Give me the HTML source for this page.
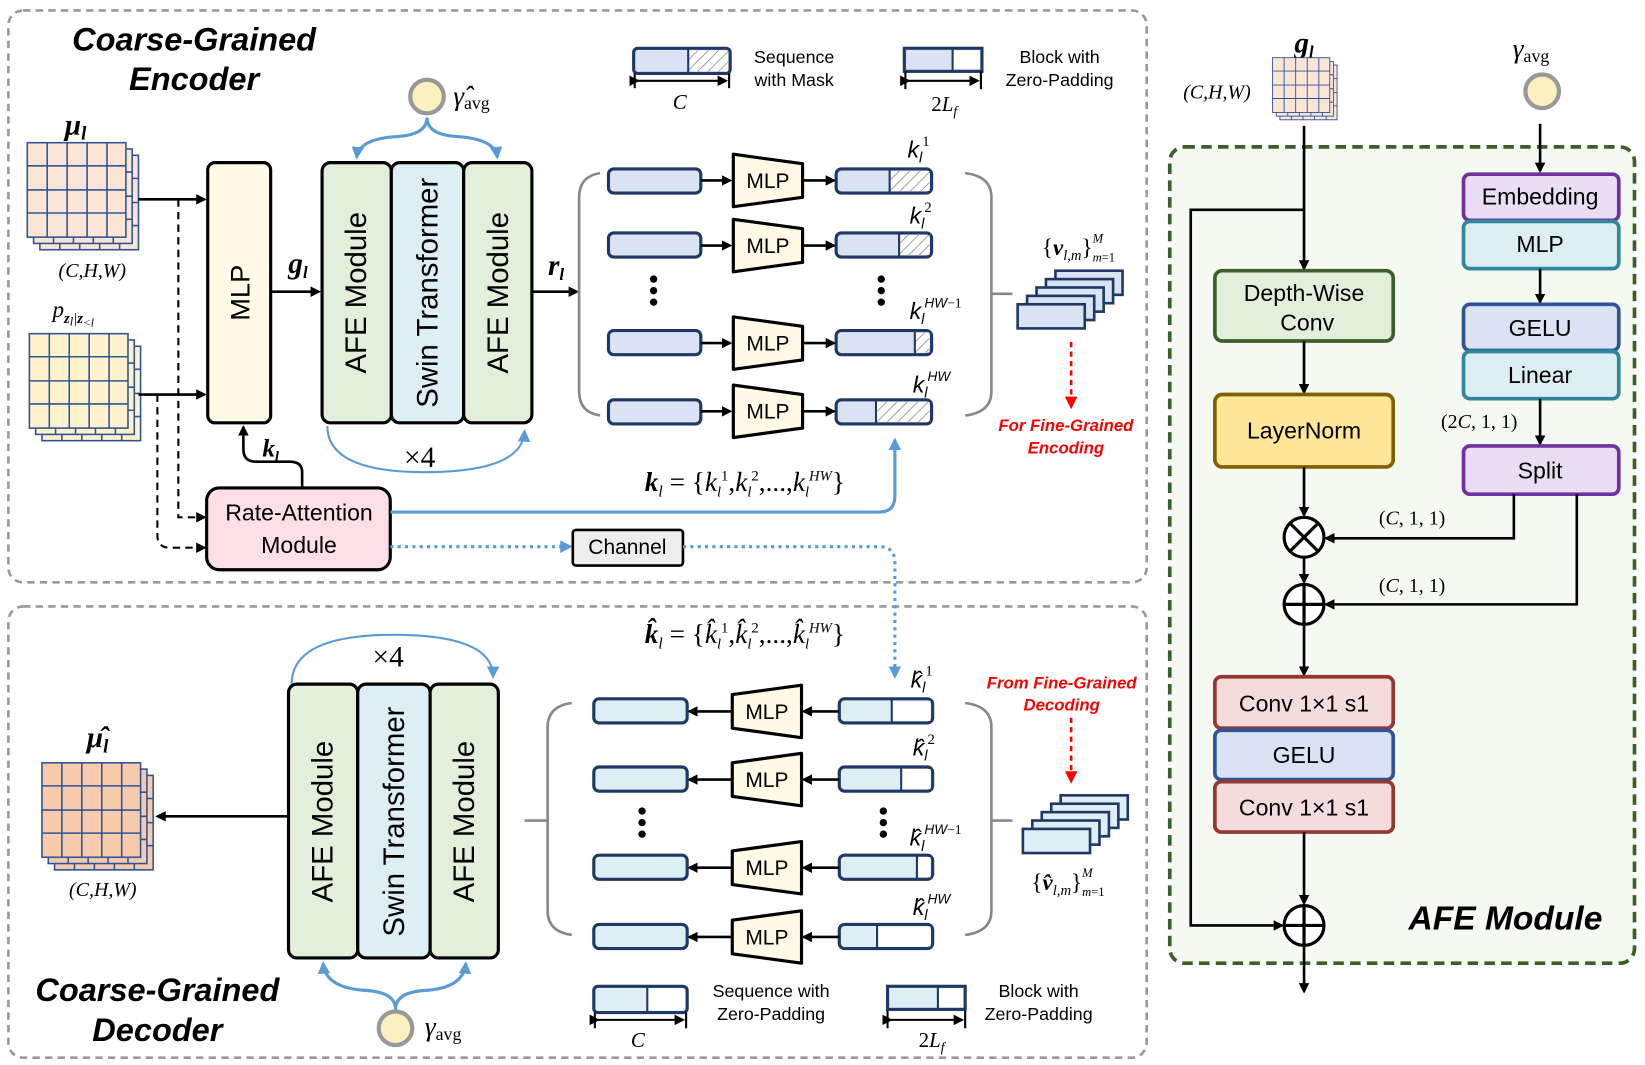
<!DOCTYPE html>
<html><head><meta charset="utf-8"><style>
html,body{margin:0;padding:0;background:#fff}
svg{display:block}
text{font-family:"Liberation Sans",sans-serif}
.m{font-family:"Liberation Serif",serif;font-style:italic}
.r{font-family:"Liberation Serif",serif}
.t{font-weight:bold;font-style:italic;font-size:31px}
.red{fill:#ff0000;font-weight:bold;font-style:italic;font-size:16px}
</style></head><body>
<svg width="1645" height="1065" viewBox="0 0 1568 1015" preserveAspectRatio="none" xmlns="http://www.w3.org/2000/svg">
<defs>
<marker id="a" markerWidth="10" markerHeight="10" refX="8" refY="5" orient="auto" markerUnits="userSpaceOnUse"><path d="M0,0 L10,5 L0,10 z" fill="#000"/></marker>
<marker id="b" markerWidth="12" markerHeight="12" refX="10" refY="6" orient="auto" markerUnits="userSpaceOnUse"><path d="M0,0 L12,6 L0,12 z" fill="#5b9bd5"/></marker>
<marker id="rd" markerWidth="12" markerHeight="12" refX="10" refY="6" orient="auto" markerUnits="userSpaceOnUse"><path d="M0,0 L12,6 L0,12 z" fill="#ff0000"/></marker>
<pattern id="h" width="7" height="7" patternUnits="userSpaceOnUse" patternTransform="rotate(45)"><rect width="7" height="7" fill="#fff"/><line x1="0" y1="0" x2="0" y2="7" stroke="#888" stroke-width="1.5"/></pattern>
<g id="gp"><rect x="0" y="0" width="94" height="90" fill="#fbe5d6" stroke="#2f5597" stroke-width="1.5"/><path d="M19 0V90M38 0V90M57 0V90M76 0V90M0 22H94M0 45H94M0 67H94" stroke="#2f5597" stroke-width="1.5"/></g>
<g id="gy"><rect x="0" y="0" width="94" height="90" fill="#fff2cc" stroke="#2f5597" stroke-width="1.5"/><path d="M19 0V90M38 0V90M57 0V90M76 0V90M0 22H94M0 45H94M0 67H94" stroke="#2f5597" stroke-width="1.5"/></g>
<g id="go"><rect x="0" y="0" width="94" height="90" fill="#f8cbad" stroke="#2f5597" stroke-width="1.5"/><path d="M19 0V90M38 0V90M57 0V90M76 0V90M0 22H94M0 45H94M0 67H94" stroke="#2f5597" stroke-width="1.5"/></g>
<g id="mlp"><path d="M0,-25 L66,-16 L66,16 L0,25 z" fill="#fff9e5" stroke="#000" stroke-width="3" stroke-linejoin="round"/><text x="33" y="7" font-size="20" text-anchor="middle">MLP</text></g>
<g id="mlpL"><path d="M0,-16 L66,-25 L66,25 L0,16 z" fill="#fff9e5" stroke="#000" stroke-width="3" stroke-linejoin="round"/><text x="33" y="7" font-size="20" text-anchor="middle">MLP</text></g>
</defs>

<rect x="8" y="10" width="1085" height="545" rx="14" fill="none" stroke="#999" stroke-width="2.5" stroke-dasharray="7,5"/>
<rect x="8" y="578" width="1085" height="430" rx="14" fill="none" stroke="#999" stroke-width="2.5" stroke-dasharray="7,5"/>
<rect x="1115" y="140" width="443" height="778" rx="14" fill="#f4f9f1" stroke="#3d5e2a" stroke-width="3.5" stroke-dasharray="10,6"/>

<text x="185" y="48" class="t" text-anchor="middle">Coarse-Grained</text>
<text x="185" y="86" class="t" text-anchor="middle">Encoder</text>
<text x="72" y="128" class="m" font-size="28" font-weight="bold" text-anchor="middle">μ<tspan font-size="18" dy="5">l</tspan></text>
<use href="#gp" x="38" y="148"/><use href="#gp" x="32" y="142"/><use href="#gp" x="26" y="136"/>
<text x="88" y="264" class="m" font-size="19" text-anchor="middle"><tspan class="r">(</tspan>C,H,W<tspan class="r">)</tspan></text>
<text x="50" y="302" class="m" font-size="22">p<tspan font-size="14" dy="6" font-weight="bold">z</tspan><tspan font-size="12" dy="2">l</tspan><tspan font-size="14" dy="-2">|</tspan><tspan font-size="14" font-weight="bold">z</tspan><tspan font-size="11" dy="3">&lt;l</tspan></text>
<use href="#gy" x="40" y="330"/><use href="#gy" x="34" y="324"/><use href="#gy" x="28" y="318"/>
<line x1="132" y1="190" x2="195" y2="190" stroke="#000" stroke-width="2.5" marker-end="url(#a)"/>
<line x1="132" y1="376" x2="195" y2="376" stroke="#000" stroke-width="2.5" marker-end="url(#a)"/>
<path d="M170,190 V493 H195" fill="none" stroke="#000" stroke-width="2" stroke-dasharray="7,5" marker-end="url(#a)"/>
<path d="M150,376 V510 Q150,522 162,522 H195" fill="none" stroke="#000" stroke-width="2" stroke-dasharray="7,5" marker-end="url(#a)"/>
<rect x="198" y="155" width="60" height="248" rx="7" fill="#fff9e5" stroke="#000" stroke-width="3"/>
<text transform="translate(238,279) rotate(-90)" font-size="26" text-anchor="middle">MLP</text>
<line x1="258" y1="278" x2="304" y2="278" stroke="#000" stroke-width="2.5" marker-end="url(#a)"/>
<text x="284" y="260" class="m" font-size="28" font-weight="bold" text-anchor="middle">g<tspan font-size="16" dy="5">l</tspan></text>
<rect x="307" y="155" width="66" height="248" rx="8" fill="#e2efda" stroke="#000" stroke-width="3"/>
<rect x="373" y="155" width="69" height="248" rx="8" fill="#deeef5" stroke="#000" stroke-width="3"/>
<rect x="442" y="155" width="65" height="248" rx="8" fill="#e2efda" stroke="#000" stroke-width="3"/>
<text transform="translate(349,279) rotate(-90)" font-size="28" text-anchor="middle">AFE Module</text>
<text transform="translate(417,279) rotate(-90)" font-size="28" text-anchor="middle">Swin Transformer</text>
<text transform="translate(484,279) rotate(-90)" font-size="28" text-anchor="middle">AFE Module</text>
<circle cx="407" cy="92" r="16" fill="#fdf0c0" stroke="#999" stroke-width="4"/>
<text x="432" y="100" class="m" font-size="26">γ̂<tspan class="r" font-style="normal" font-size="17" dy="4">avg</tspan></text>
<path d="M407,112 Q407,128 380,130 Q342,132 340,150" fill="none" stroke="#5b9bd5" stroke-width="3" marker-end="url(#b)"/>
<path d="M407,112 Q407,128 434,130 Q472,132 474,150" fill="none" stroke="#5b9bd5" stroke-width="3" marker-end="url(#b)"/>
<path d="M312,406 Q312,450 405,450 Q498,450 500,411" fill="none" stroke="#5b9bd5" stroke-width="2" marker-end="url(#b)"/>
<text x="400" y="445" class="r" font-size="28" text-anchor="middle">×4</text>
<line x1="507" y1="278" x2="550" y2="278" stroke="#000" stroke-width="2.5" marker-end="url(#a)"/>
<text x="530" y="262" class="m" font-size="28" font-weight="bold" text-anchor="middle">r<tspan font-size="16" dy="5">l</tspan></text>
<path d="M572,165 Q552,168 552,188 V373 Q552,393 572,396" fill="none" stroke="#888" stroke-width="2.5"/>
<path d="M920,165 Q945,168 945,188 V373 Q945,393 920,396" fill="none" stroke="#888" stroke-width="2.5"/>
<line x1="945" y1="280" x2="965" y2="280" stroke="#888" stroke-width="2.5"/>

<g stroke-width="3">
<rect x="580" y="161" width="88" height="23" rx="5" fill="#dae3f3" stroke="#1f3864"/>
<rect x="580" y="222" width="88" height="23" rx="5" fill="#dae3f3" stroke="#1f3864"/>
<rect x="580" y="315" width="88" height="23" rx="5" fill="#dae3f3" stroke="#1f3864"/>
<rect x="580" y="381" width="88" height="23" rx="5" fill="#dae3f3" stroke="#1f3864"/>
<rect x="797" y="161" width="91" height="23" rx="5" fill="#dae3f3" stroke="#1f3864"/><rect x="848" y="163" width="38" height="19" fill="url(#h)"/><line x1="848" y1="161" x2="848" y2="184" stroke="#1f3864" stroke-width="2"/>
<rect x="797" y="222" width="91" height="23" rx="5" fill="#dae3f3" stroke="#1f3864"/><rect x="857" y="224" width="29" height="19" fill="url(#h)"/><line x1="857" y1="222" x2="857" y2="245" stroke="#1f3864" stroke-width="2"/>
<rect x="797" y="315" width="91" height="23" rx="5" fill="#dae3f3" stroke="#1f3864"/><rect x="872" y="317" width="14" height="19" fill="url(#h)"/><line x1="872" y1="315" x2="872" y2="338" stroke="#1f3864" stroke-width="2"/>
<rect x="797" y="381" width="91" height="23" rx="5" fill="#dae3f3" stroke="#1f3864"/><rect x="835" y="383" width="51" height="19" fill="url(#h)"/><line x1="835" y1="381" x2="835" y2="404" stroke="#1f3864" stroke-width="2"/>
</g>
<use href="#mlp" x="699" y="172"/><use href="#mlp" x="699" y="234"/><use href="#mlp" x="699" y="327"/><use href="#mlp" x="699" y="392"/>
<g stroke="#000" stroke-width="2.5">
<line x1="668" y1="172" x2="696" y2="172" marker-end="url(#a)"/><line x1="668" y1="234" x2="696" y2="234" marker-end="url(#a)"/><line x1="668" y1="327" x2="696" y2="327" marker-end="url(#a)"/><line x1="668" y1="392" x2="696" y2="392" marker-end="url(#a)"/>
<line x1="766" y1="172" x2="795" y2="172" marker-end="url(#a)"/><line x1="766" y1="234" x2="795" y2="234" marker-end="url(#a)"/><line x1="766" y1="327" x2="795" y2="327" marker-end="url(#a)"/><line x1="766" y1="392" x2="795" y2="392" marker-end="url(#a)"/>
</g>
<g fill="#000"><circle cx="623" cy="266" r="3.5"/><circle cx="623" cy="277" r="3.5"/><circle cx="623" cy="288" r="3.5"/><circle cx="840" cy="266" r="3.5"/><circle cx="840" cy="277" r="3.5"/><circle cx="840" cy="288" r="3.5"/></g>
<g class="m" font-size="22">
<text x="865" y="150">k<tspan font-size="14" dy="5">l</tspan><tspan font-size="14" dy="-16" class="r" font-style="normal">1</tspan></text>
<text x="867" y="213">k<tspan font-size="14" dy="5">l</tspan><tspan font-size="14" dy="-16" class="r" font-style="normal">2</tspan></text>
<text x="867" y="304">k<tspan font-size="14" dy="5">l</tspan><tspan font-size="13" dy="-16">HW</tspan><tspan font-size="13" class="r" font-style="normal">−1</tspan></text>
<text x="870" y="374">k<tspan font-size="14" dy="5">l</tspan><tspan font-size="13" dy="-16">HW</tspan></text>
</g>
<g fill="#dae3f3" stroke="#1f3864" stroke-width="2.5">
<rect x="1006" y="258" width="64" height="23"/><rect x="997" y="266" width="64" height="23"/><rect x="988" y="274" width="64" height="23"/><rect x="979" y="282" width="64" height="23"/><rect x="970" y="290" width="64" height="23"/>
</g>
<text x="1028" y="243" class="m" font-size="22" text-anchor="middle"><tspan class="r" font-style="normal">{</tspan><tspan font-weight="bold">v</tspan><tspan font-size="14" dy="5">l,m</tspan><tspan class="r" font-style="normal" dy="-5">}</tspan><tspan font-size="12" dy="-12">M</tspan><tspan font-size="12" dx="-10" dy="18">m</tspan><tspan font-size="12" class="r" font-style="normal">=1</tspan></text>
<line x1="1021" y1="326" x2="1021" y2="388" stroke="#ff0000" stroke-width="2.5" stroke-dasharray="5,4" marker-end="url(#rd)"/>
<text x="1016" y="411" class="red" text-anchor="middle">For Fine-Grained</text>
<text x="1016" y="432" class="red" text-anchor="middle">Encoding</text>

<rect x="604" y="46" width="92" height="24" rx="4" fill="#dae3f3" stroke="#1f3864" stroke-width="3"/><rect x="656" y="48" width="38" height="20" fill="url(#h)"/><line x1="656" y1="46" x2="656" y2="70" stroke="#1f3864" stroke-width="2"/>
<path d="M605,70V84M695,70V84" stroke="#000" stroke-width="2"/><line x1="608" y1="77" x2="692" y2="77" stroke="#000" stroke-width="2" marker-end="url(#a)" marker-start="url(#a)"/>
<text x="648" y="104" class="m" font-size="20" text-anchor="middle">C</text>
<text x="757" y="60" font-size="17" text-anchor="middle">Sequence</text><text x="757" y="82" font-size="17" text-anchor="middle">with Mask</text>
<rect x="862" y="46" width="74" height="22" fill="#dae3f3" stroke="#1f3864" stroke-width="3"/><rect x="908" y="48" width="26" height="18" fill="#fff"/><line x1="908" y1="46" x2="908" y2="68" stroke="#1f3864" stroke-width="2"/>
<path d="M863,68V85M935,68V85" stroke="#000" stroke-width="2"/><line x1="866" y1="77" x2="932" y2="77" stroke="#000" stroke-width="2" marker-end="url(#a)" marker-start="url(#a)"/>
<text x="900" y="106" class="r" font-size="20" text-anchor="middle">2<tspan class="m">L</tspan><tspan class="m" font-size="13" dy="4">f</tspan></text>
<text x="1010" y="60" font-size="17" text-anchor="middle">Block with</text><text x="1010" y="82" font-size="17" text-anchor="middle">Zero-Padding</text>

<text x="710" y="468" class="m" font-size="26" text-anchor="middle"><tspan font-weight="bold">k</tspan><tspan font-size="15" dy="5">l</tspan><tspan class="r" font-style="normal" dy="-5"> = {</tspan>k<tspan font-size="14" dy="5">l</tspan><tspan font-size="14" dy="-15" class="r" font-style="normal">1</tspan><tspan class="r" font-style="normal" dy="10">,</tspan>k<tspan font-size="14" dy="5">l</tspan><tspan font-size="14" dy="-15" class="r" font-style="normal">2</tspan><tspan class="r" font-style="normal" dy="10">,...,</tspan>k<tspan font-size="14" dy="5">l</tspan><tspan font-size="14" dy="-15">HW</tspan><tspan class="r" font-style="normal" dy="10">}</tspan></text>

<rect x="197" y="465" width="175" height="78" rx="12" fill="#fde0e6" stroke="#000" stroke-width="3"/>
<text x="285" y="496" font-size="22" text-anchor="middle">Rate-Attention</text><text x="285" y="527" font-size="22" text-anchor="middle">Module</text>
<path d="M288,465 V450 Q288,440 276,440 H244 Q232,440 232,428 V407" fill="none" stroke="#000" stroke-width="2.5" marker-end="url(#a)"/>
<text x="258" y="435" class="m" font-size="24" font-weight="bold" text-anchor="middle">k<tspan font-size="14" dy="5">l</tspan></text>
<path d="M372,488 H838 Q853,488 853,473 V419" fill="none" stroke="#5b9bd5" stroke-width="3" marker-end="url(#b)"/>
<line x1="372" y1="521" x2="544" y2="521" stroke="#5b9bd5" stroke-width="3" stroke-dasharray="3,4" marker-end="url(#b)"/>
<rect x="546" y="505" width="105" height="34" rx="3" fill="#eeeeee" stroke="#000" stroke-width="2.5"/>
<text x="598" y="528" font-size="20" text-anchor="middle">Channel</text>
<path d="M651,521 H838 Q853,521 853,536 V645" fill="none" stroke="#5b9bd5" stroke-width="3" stroke-dasharray="3,4" marker-end="url(#b)"/>

<text x="710" y="613" class="m" font-size="26" text-anchor="middle"><tspan font-weight="bold">k̂</tspan><tspan font-size="15" dy="5">l</tspan><tspan class="r" font-style="normal" dy="-5"> = {</tspan>k̂<tspan font-size="14" dy="5">l</tspan><tspan font-size="14" dy="-15" class="r" font-style="normal">1</tspan><tspan class="r" font-style="normal" dy="10">,</tspan>k̂<tspan font-size="14" dy="5">l</tspan><tspan font-size="14" dy="-15" class="r" font-style="normal">2</tspan><tspan class="r" font-style="normal" dy="10">,...,</tspan>k̂<tspan font-size="14" dy="5">l</tspan><tspan font-size="14" dy="-15">HW</tspan><tspan class="r" font-style="normal" dy="10">}</tspan></text>
<text x="370" y="635" class="r" font-size="28" text-anchor="middle">×4</text>
<path d="M278,652 Q278,605 375,605 Q470,605 470,645" fill="none" stroke="#5b9bd5" stroke-width="2" marker-end="url(#b)"/>
<rect x="275" y="652" width="66" height="261" rx="8" fill="#e2efda" stroke="#000" stroke-width="3"/>
<rect x="341" y="652" width="69" height="261" rx="8" fill="#deeef5" stroke="#000" stroke-width="3"/>
<rect x="410" y="652" width="65" height="261" rx="8" fill="#e2efda" stroke="#000" stroke-width="3"/>
<text transform="translate(317,783) rotate(-90)" font-size="28" text-anchor="middle">AFE Module</text>
<text transform="translate(385,783) rotate(-90)" font-size="28" text-anchor="middle">Swin Transformer</text>
<text transform="translate(452,783) rotate(-90)" font-size="28" text-anchor="middle">AFE Module</text>
<path d="M377,962 Q377,946 350,944 Q310,942 308,918" fill="none" stroke="#5b9bd5" stroke-width="3" marker-end="url(#b)"/>
<path d="M377,962 Q377,946 404,944 Q442,942 444,918" fill="none" stroke="#5b9bd5" stroke-width="3" marker-end="url(#b)"/>
<circle cx="377" cy="980" r="16" fill="#fdf0c0" stroke="#999" stroke-width="4"/>
<text x="405" y="987" class="m" font-size="26">γ<tspan class="r" font-style="normal" font-size="17" dy="4">avg</tspan></text>
<line x1="275" y1="778" x2="150" y2="778" stroke="#000" stroke-width="2.5" marker-end="url(#a)"/>
<text x="93" y="712" class="m" font-size="28" font-weight="bold" text-anchor="middle">μ̂<tspan font-size="18" dy="5">l</tspan></text>
<use href="#go" x="52" y="739"/><use href="#go" x="46" y="733"/><use href="#go" x="40" y="727"/>
<text x="98" y="854" class="m" font-size="19" text-anchor="middle"><tspan class="r">(</tspan>C,H,W<tspan class="r">)</tspan></text>
<text x="150" y="954" class="t" text-anchor="middle">Coarse-Grained</text>
<text x="150" y="992" class="t" text-anchor="middle">Decoder</text>
<path d="M545,670 Q522,673 522,693 V868 Q522,888 545,891" fill="none" stroke="#888" stroke-width="2.5"/>
<path d="M920,670 Q945,673 945,693 V868 Q945,888 920,891" fill="none" stroke="#888" stroke-width="2.5"/>
<line x1="500" y1="782" x2="522" y2="782" stroke="#888" stroke-width="2.5"/>
<line x1="945" y1="782" x2="965" y2="782" stroke="#888" stroke-width="2.5"/>
<g stroke-width="3">
<rect x="566" y="666" width="89" height="23" rx="5" fill="#deeef5" stroke="#1f3864"/>
<rect x="566" y="731" width="89" height="23" rx="5" fill="#deeef5" stroke="#1f3864"/>
<rect x="566" y="815" width="89" height="23" rx="5" fill="#deeef5" stroke="#1f3864"/>
<rect x="566" y="881" width="89" height="23" rx="5" fill="#deeef5" stroke="#1f3864"/>
<rect x="800" y="666" width="89" height="23" rx="5" fill="#deeef5" stroke="#1f3864"/><rect x="850" y="668" width="37" height="19" fill="#fff"/><line x1="850" y1="666" x2="850" y2="689" stroke="#1f3864" stroke-width="2"/>
<rect x="800" y="731" width="89" height="23" rx="5" fill="#deeef5" stroke="#1f3864"/><rect x="859" y="733" width="28" height="19" fill="#fff"/><line x1="859" y1="731" x2="859" y2="754" stroke="#1f3864" stroke-width="2"/>
<rect x="800" y="815" width="89" height="23" rx="5" fill="#deeef5" stroke="#1f3864"/><rect x="874" y="817" width="13" height="19" fill="#fff"/><line x1="874" y1="815" x2="874" y2="838" stroke="#1f3864" stroke-width="2"/>
<rect x="800" y="881" width="89" height="23" rx="5" fill="#deeef5" stroke="#1f3864"/><rect x="836" y="883" width="51" height="19" fill="#fff"/><line x1="836" y1="881" x2="836" y2="904" stroke="#1f3864" stroke-width="2"/>
</g>
<use href="#mlpL" x="698" y="678"/><use href="#mlpL" x="698" y="743"/><use href="#mlpL" x="698" y="827"/><use href="#mlpL" x="698" y="893"/>
<g stroke="#000" stroke-width="2.5">
<line x1="698" y1="678" x2="657" y2="678" marker-end="url(#a)"/><line x1="698" y1="743" x2="657" y2="743" marker-end="url(#a)"/><line x1="698" y1="827" x2="657" y2="827" marker-end="url(#a)"/><line x1="698" y1="893" x2="657" y2="893" marker-end="url(#a)"/>
<line x1="800" y1="678" x2="766" y2="678" marker-end="url(#a)"/><line x1="800" y1="743" x2="766" y2="743" marker-end="url(#a)"/><line x1="800" y1="827" x2="766" y2="827" marker-end="url(#a)"/><line x1="800" y1="893" x2="766" y2="893" marker-end="url(#a)"/>
</g>
<g fill="#000"><circle cx="612" cy="773" r="3.5"/><circle cx="612" cy="784" r="3.5"/><circle cx="612" cy="795" r="3.5"/><circle cx="842" cy="773" r="3.5"/><circle cx="842" cy="784" r="3.5"/><circle cx="842" cy="795" r="3.5"/></g>
<g class="m" font-size="22">
<text x="868" y="655">k̂<tspan font-size="14" dy="5">l</tspan><tspan font-size="14" dy="-16" class="r" font-style="normal">1</tspan></text>
<text x="870" y="720">k̂<tspan font-size="14" dy="5">l</tspan><tspan font-size="14" dy="-16" class="r" font-style="normal">2</tspan></text>
<text x="867" y="806">k̂<tspan font-size="14" dy="5">l</tspan><tspan font-size="13" dy="-16">HW</tspan><tspan font-size="13" class="r" font-style="normal">−1</tspan></text>
<text x="870" y="872">k̂<tspan font-size="14" dy="5">l</tspan><tspan font-size="13" dy="-16">HW</tspan></text>
</g>
<text x="1012" y="656" class="red" text-anchor="middle">From Fine-Grained</text>
<text x="1012" y="677" class="red" text-anchor="middle">Decoding</text>
<line x1="1021" y1="684" x2="1021" y2="745" stroke="#ff0000" stroke-width="2.5" stroke-dasharray="5,4" marker-end="url(#rd)"/>
<g fill="#deeef5" stroke="#1f3864" stroke-width="2.5">
<rect x="1011" y="758" width="64" height="23"/><rect x="1002" y="766" width="64" height="23"/><rect x="993" y="774" width="64" height="23"/><rect x="984" y="782" width="64" height="23"/><rect x="975" y="790" width="64" height="23"/>
</g>
<text x="1018" y="848" class="m" font-size="22" text-anchor="middle"><tspan class="r" font-style="normal">{</tspan><tspan font-weight="bold">v̂</tspan><tspan font-size="14" dy="5">l,m</tspan><tspan class="r" font-style="normal" dy="-5">}</tspan><tspan font-size="12" dy="-12">M</tspan><tspan font-size="12" dx="-10" dy="18">m</tspan><tspan font-size="12" class="r" font-style="normal">=1</tspan></text>
<rect x="566" y="940" width="89" height="25" rx="4" fill="#deeef5" stroke="#1f3864" stroke-width="3"/><rect x="617" y="942" width="36" height="21" rx="3" fill="#fff"/><line x1="617" y1="940" x2="617" y2="965" stroke="#1f3864" stroke-width="2"/>
<path d="M567,965V980M654,965V980M846,962V980M920,962V980" stroke="#000" stroke-width="2"/>
<line x1="570" y1="972" x2="651" y2="972" stroke="#000" stroke-width="2" marker-end="url(#a)" marker-start="url(#a)"/>
<text x="608" y="998" class="m" font-size="20" text-anchor="middle">C</text>
<text x="735" y="950" font-size="17" text-anchor="middle">Sequence with</text><text x="735" y="972" font-size="17" text-anchor="middle">Zero-Padding</text>
<rect x="846" y="940" width="74" height="22" fill="#deeef5" stroke="#1f3864" stroke-width="3"/><rect x="894" y="942" width="24" height="18" fill="#fff"/><line x1="894" y1="940" x2="894" y2="962" stroke="#1f3864" stroke-width="2"/>
<line x1="849" y1="972" x2="917" y2="972" stroke="#000" stroke-width="2" marker-end="url(#a)" marker-start="url(#a)"/>
<text x="888" y="998" class="r" font-size="20" text-anchor="middle">2<tspan class="m">L</tspan><tspan class="m" font-size="13" dy="4">f</tspan></text>
<text x="990" y="950" font-size="17" text-anchor="middle">Block with</text><text x="990" y="972" font-size="17" text-anchor="middle">Zero-Padding</text>

<text x="1243" y="50" class="m" font-size="28" font-weight="bold" text-anchor="middle">g<tspan font-size="16" dy="5">l</tspan></text>
<text x="1160" y="94" class="m" font-size="19" text-anchor="middle"><tspan class="r">(</tspan>C,H,W<tspan class="r">)</tspan></text>
<g transform="translate(1213,55) scale(0.58,0.58)"><use href="#gp" x="12" y="12"/><use href="#gp" x="6" y="6"/><use href="#gp" x="0" y="0"/></g>
<text x="1442" y="55" class="m" font-size="26">γ<tspan class="r" font-style="normal" font-size="17" dy="4">avg</tspan></text>
<circle cx="1470" cy="87" r="16" fill="#fdf0c0" stroke="#999" stroke-width="4"/>
<line x1="1243" y1="120" x2="1243" y2="256" stroke="#000" stroke-width="2.5" marker-end="url(#a)"/>
<path d="M1243,200 H1135 V882 H1222" fill="none" stroke="#000" stroke-width="2.5" marker-end="url(#a)"/>
<rect x="1158" y="258" width="170" height="67" rx="7" fill="#e2efda" stroke="#3d5e2a" stroke-width="3.5"/>
<text x="1243" y="287" font-size="22" text-anchor="middle">Depth-Wise</text><text x="1246" y="315" font-size="22" text-anchor="middle">Conv</text>
<line x1="1243" y1="325" x2="1243" y2="374" stroke="#000" stroke-width="2.5" marker-end="url(#a)"/>
<rect x="1158" y="376" width="170" height="69" rx="7" fill="#ffe699" stroke="#7f6000" stroke-width="3.5"/>
<text x="1243" y="418" font-size="22" text-anchor="middle">LayerNorm</text>
<line x1="1243" y1="445" x2="1243" y2="491" stroke="#000" stroke-width="2.5" marker-end="url(#a)"/>
<circle cx="1243" cy="512" r="19" fill="#fff" stroke="#000" stroke-width="3"/>
<path d="M1230,499L1256,525M1256,499L1230,525" stroke="#000" stroke-width="3"/>
<line x1="1243" y1="531" x2="1243" y2="555" stroke="#000" stroke-width="2.5" marker-end="url(#a)"/>
<circle cx="1243" cy="576" r="19" fill="#fff" stroke="#000" stroke-width="3"/>
<path d="M1224,576H1262M1243,557V595" stroke="#000" stroke-width="3"/>
<line x1="1243" y1="595" x2="1243" y2="643" stroke="#000" stroke-width="2.5" marker-end="url(#a)"/>
<rect x="1158" y="645" width="170" height="49" rx="6" fill="#f4dcdb" stroke="#943634" stroke-width="3.5"/>
<rect x="1158" y="696" width="170" height="47" rx="6" fill="#dae3f3" stroke="#2f5597" stroke-width="3.5"/>
<rect x="1158" y="745" width="170" height="48" rx="6" fill="#f4dcdb" stroke="#943634" stroke-width="3.5"/>
<text x="1243" y="678" font-size="22" text-anchor="middle">Conv 1×1 s1</text>
<text x="1243" y="727" font-size="22" text-anchor="middle">GELU</text>
<text x="1243" y="777" font-size="22" text-anchor="middle">Conv 1×1 s1</text>
<line x1="1243" y1="793" x2="1243" y2="861" stroke="#000" stroke-width="2.5" marker-end="url(#a)"/>
<circle cx="1243" cy="882" r="19" fill="#fff" stroke="#000" stroke-width="3"/>
<path d="M1224,882H1262M1243,863V901" stroke="#000" stroke-width="3"/>
<line x1="1243" y1="901" x2="1243" y2="945" stroke="#000" stroke-width="2.5" marker-end="url(#a)"/>
<line x1="1468" y1="118" x2="1468" y2="163" stroke="#000" stroke-width="2.5" marker-end="url(#a)"/>
<rect x="1395" y="166" width="148" height="44" rx="6" fill="#e8dff5" stroke="#7030a0" stroke-width="3.5"/>
<rect x="1395" y="211" width="148" height="45" rx="6" fill="#dbeef4" stroke="#31859c" stroke-width="3.5"/>
<text x="1468" y="195" font-size="22" text-anchor="middle">Embedding</text>
<text x="1468" y="240" font-size="22" text-anchor="middle">MLP</text>
<line x1="1468" y1="256" x2="1468" y2="288" stroke="#000" stroke-width="2.5" marker-end="url(#a)"/>
<rect x="1395" y="290" width="148" height="44" rx="6" fill="#dae3f3" stroke="#2f5597" stroke-width="3.5"/>
<rect x="1395" y="335" width="148" height="45" rx="6" fill="#dbeef4" stroke="#31859c" stroke-width="3.5"/>
<text x="1468" y="320" font-size="22" text-anchor="middle">GELU</text>
<text x="1468" y="365" font-size="22" text-anchor="middle">Linear</text>
<line x1="1468" y1="380" x2="1468" y2="423" stroke="#000" stroke-width="2.5" marker-end="url(#a)"/>
<text x="1410" y="408" class="r" font-size="19" text-anchor="middle">(2<tspan class="m">C</tspan>, 1, 1)</text>
<rect x="1395" y="425" width="148" height="46" rx="6" fill="#e8dff5" stroke="#7030a0" stroke-width="3.5"/>
<text x="1468" y="456" font-size="22" text-anchor="middle">Split</text>
<path d="M1443,471 V513 H1264" fill="none" stroke="#000" stroke-width="2.5" marker-end="url(#a)"/>
<path d="M1503,471 V576 H1264" fill="none" stroke="#000" stroke-width="2.5" marker-end="url(#a)"/>
<text x="1346" y="500" class="r" font-size="19" text-anchor="middle">(<tspan class="m">C</tspan>, 1, 1)</text>
<text x="1346" y="564" class="r" font-size="19" text-anchor="middle">(<tspan class="m">C</tspan>, 1, 1)</text>
<text x="1435" y="886" font-size="32" font-weight="bold" font-style="italic" text-anchor="middle">AFE  Module</text>
</svg>
</body></html>
